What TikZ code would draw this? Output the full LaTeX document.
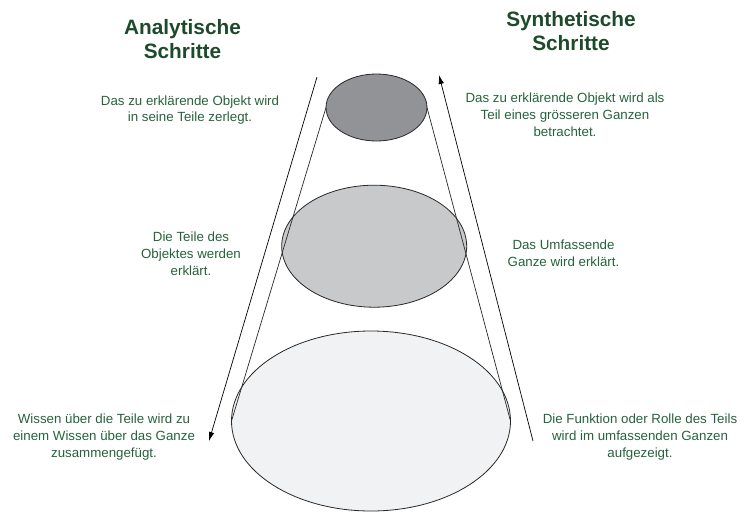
\documentclass[tikz,border=0pt]{standalone}
\usepackage{fontspec}
\setmainfont{Liberation Sans}
\usetikzlibrary{shapes.geometric,arrows.meta}

\definecolor{titlegreen}{RGB}{28,74,42}
\definecolor{textgreen}{RGB}{38,98,58}
\definecolor{fillA}{RGB}{146,147,151}
\definecolor{fillB}{RGB}{200,201,203}
\definecolor{fillC}{RGB}{241,242,244}
\definecolor{edge}{RGB}{40,40,40}

\begin{document}
\begin{tikzpicture}[x=1pt,y=-1pt,
  disc/.style={ellipse, draw=edge, line width=0.8pt, inner sep=0pt, outer sep=0pt},
  cone/.style={draw=edge, line width=0.7pt},
  flow/.style={draw=black, line width=0.7pt, -{Latex[length=9pt,width=5.5pt]}},
  heading/.style={font=\fontsize{20.8}{24}\selectfont\bfseries, text=titlegreen, align=center, inner sep=0pt},
  note/.style={font=\fontsize{13.3}{16.8}\selectfont, text=textgreen, align=center, inner sep=0pt}]
\useasboundingbox (0,0) rectangle (750,512);

% three stacked discs of the cone
\node[disc, fill=fillC, minimum width=279pt, minimum height=180pt] (whole) at (371,421) {};
\node[disc, fill=fillB, minimum width=185pt, minimum height=122pt] (parts) at (374.2,246.2) {};
\node[disc, fill=fillA, minimum width=101pt, minimum height=67pt] (object) at (376.5,107.5) {};

% cone flanks
\draw[cone] (object.west) -- (whole.west);
\draw[cone] (object.east) -- (whole.east);

% direction of the two procedures
\coordinate (anaTop) at (317,77);
\coordinate (anaEnd) at (209,441);
\coordinate (synStart) at (533,441);
\coordinate (synTop) at (439,75);
\draw[flow] (anaTop) -- (anaEnd);
\draw[flow] (synStart) -- (synTop);

% headings
\node[heading] (hAna) at (182.5,39) {Analytische\\Schritte};
\node[heading] (hSyn) at (571,31) {Synthetische\\Schritte};

% analytic steps
\node[note] (a1) at (190,110) {Das zu erklärende Objekt wird\\in seine Teile zerlegt.};
\node[note] (a2) at (191,254) {Die Teile des\\Objektes werden\\erklärt.};
\node[note] (a3) at (104,437) {Wissen über die Teile wird zu\\einem Wissen über das Ganze\\zusammengefügt.};

% synthetic steps
\node[note] (s1) at (565,115) {Das zu erklärende Objekt wird als\\Teil eines grösseren Ganzen\\betrachtet.};
\node[note] (s2) at (563.5,253) {Das Umfassende\\Ganze wird erklärt.};
\node[note] (s3) at (640,437) {Die Funktion oder Rolle des Teils\\wird im umfassenden Ganzen\\aufgezeigt.};
\end{tikzpicture}
\end{document}
